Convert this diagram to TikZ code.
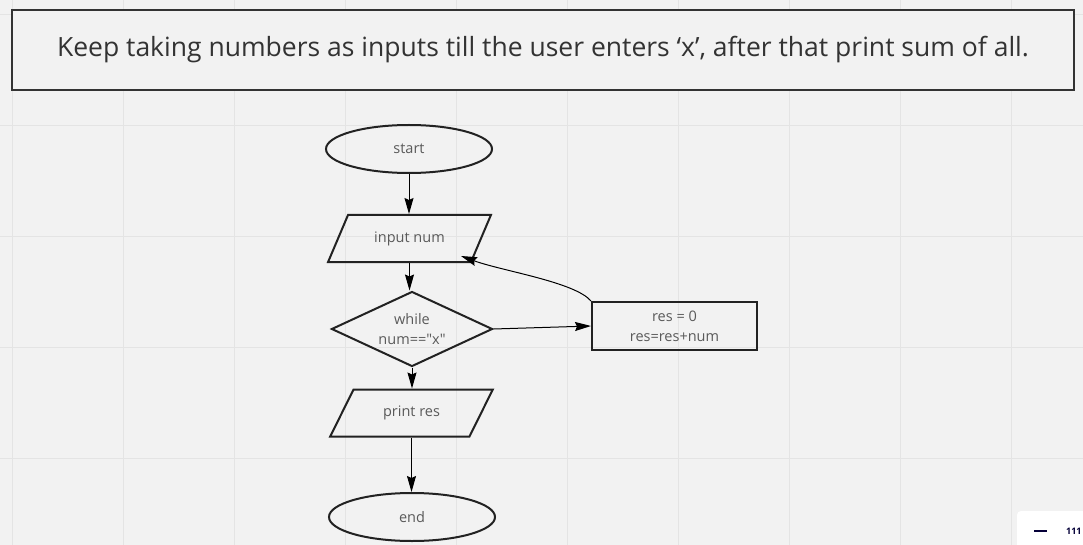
\documentclass[tikz,border=0pt]{standalone}
\usepackage{fontspec}
\setmainfont{Open Sans}[Ligatures=TeXOff]
\usetikzlibrary{shapes.geometric,arrows.meta}
\definecolor{bg}{HTML}{F2F2F2}
\definecolor{gridc}{HTML}{E4E4E4}
\definecolor{edge}{HTML}{222222}
\definecolor{txt}{HTML}{5A5A5A}
\definecolor{title}{HTML}{333333}
\definecolor{navy}{HTML}{050038}
\begin{document}
\begin{tikzpicture}[x=1pt,y=-1pt,
  shapebox/.style={draw=edge, line width=2pt, text=txt, font=\fontsize{14.5}{20}\selectfont, align=center, inner sep=0pt},
  term/.style={shapebox, ellipse, minimum width=166pt, minimum height=48pt},
  io/.style={shapebox, trapezium, trapezium left angle=51, trapezium right angle=129, trapezium stretches=true, minimum width=163pt, minimum height=47pt},
  cond/.style={shapebox, diamond, aspect=2.15, minimum width=161pt, minimum height=75pt},
  proc/.style={shapebox, rectangle, minimum width=165pt, minimum height=48pt},
  conn/.style={draw=black, line width=1pt, -{Stealth[length=16pt,width=9pt,inset=2pt]}}]
\fill[bg] (0,0) rectangle (1083,545);
\useasboundingbox (0,0) rectangle (1083,545);
\foreach \gx in {12,123,234,345,456,567,678,789,900,1011}
  \draw[gridc, line width=0.8pt] (\gx,0) -- (\gx,545);
\foreach \gy in {14,125,236,347,458}
  \draw[gridc, line width=0.8pt] (0,\gy) -- (1083,\gy);
% title
\node[draw=title, line width=2pt, fill=bg, minimum width=1062pt, minimum height=80pt, inner sep=0pt, text=title, font=\fontsize{26.5}{30}\selectfont] (titlebox) at (543,50) {Keep taking numbers as inputs till the user enters ‘x’, after that print sum of all.};
% flowchart
\node[term] (start) at (409,149) {start};
\node[io] (input) at (409.5,238.5) {input num};
\node[cond] (while) at (412,329) {while\\num=="x"};
\node[proc] (res) at (674.5,326) {res = 0\\res=res+num};
\node[io] (print) at (411.5,413) {print res};
\node[term] (end) at (412,517) {end};
\coordinate (back) at (461,256);
\draw[conn] (start.south) -- (start.south |- input.north);
\draw[conn] (input.south) -- (input.south |- while.north);
\draw[conn] (while.south) -- (while.south |- print.north);
\draw[conn] (print.south) -- (print.south |- end.north);
\draw[conn] (while.east) -- (res.west);
\draw[conn] (res.north west) .. controls (575,282) and (502,271) .. (back);
% zoom widget
\fill[white, rounded corners=4pt] (1017,511) rectangle (1100,560);
\node[draw=none, inner sep=0pt] (zoomtxt) at (1066,531) [anchor=west, text=navy, font=\fontsize{9}{10}\selectfont\bfseries] {111};
\coordinate (dashA) at (1034,531);
\coordinate (dashB) at (1047,531);
\draw[navy, line width=2pt] (dashA) -- (dashB);
\end{tikzpicture}
\end{document}
